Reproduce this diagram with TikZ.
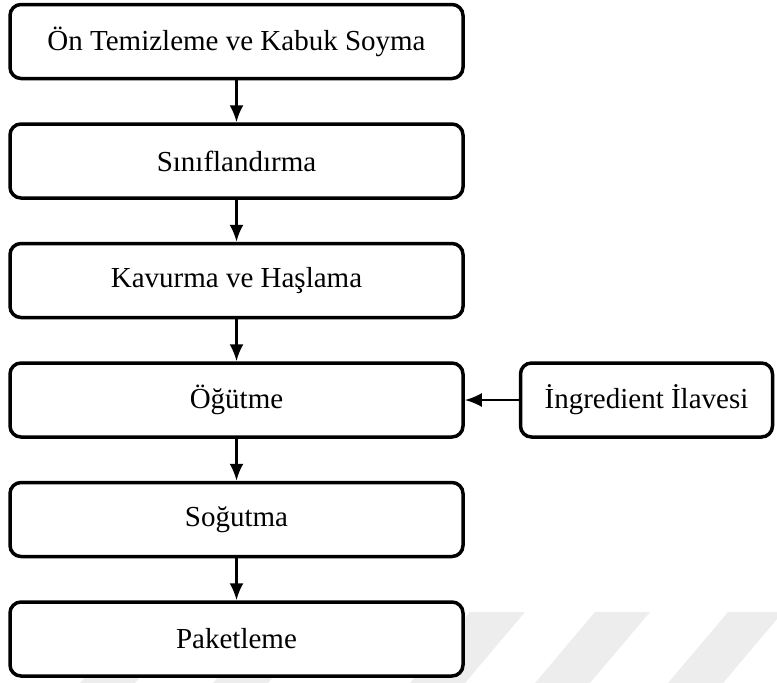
\documentclass[tikz,border=0pt]{standalone}
\usepackage{fontspec}
\setmainfont{Liberation Serif}
\usetikzlibrary{arrows.meta, positioning}
\tikzset{
  >=latex,
  % Kutular
  box/.style={draw=black,line width=3.5pt,rounded corners=11pt,fill=white,
    minimum width=453pt,minimum height=74pt,inner sep=0pt,
    font=\fontsize{29}{34}\selectfont},
  box side/.style={box,minimum width=252pt},
  % Bağlantılar
  connect arrow/.style={-{Latex[length=17pt,width=14pt]},line width=2.5pt},
  stripe/.style={fill=black!7,draw=none}
}

\begin{document}
\begin{tikzpicture}[x=1pt,y=1pt,node distance=42pt]
        \useasboundingbox (0,0) rectangle (777,-683);
        % filigran
        \foreach \bx in {80, 213, 410, 535, 668}{
          \fill[stripe] (\bx,-683) -- (\bx+60,-612) -- (\bx+115,-612) -- (\bx+55,-683) -- cycle;
        }
        \node[box] (temizleme) at (236.5,-41.5) {Ön Temizleme ve Kabuk Soyma};
        \node[box, below=of temizleme] (sinif) {Sınıflandırma};
        \node[box, below=of sinif] (kavurma) {Kavurma ve Haşlama};
        \node[box, below=of kavurma] (ogutme) {Öğütme};
        \node[box, below=of ogutme] (sogutma) {Soğutma};
        \node[box, below=of sogutma] (paket) {Paketleme};
        \node[box side, right=54pt of ogutme] (ingredient) {İngredient İlavesi};
        \draw[connect arrow] (temizleme) -- (sinif);
        \draw[connect arrow] (sinif) -- (kavurma);
        \draw[connect arrow] (kavurma) -- (ogutme);
        \draw[connect arrow] (ogutme) -- (sogutma);
        \draw[connect arrow] (sogutma) -- (paket);
        \draw[connect arrow] (ingredient) -- (ogutme);
      \end{tikzpicture}
\end{document}
